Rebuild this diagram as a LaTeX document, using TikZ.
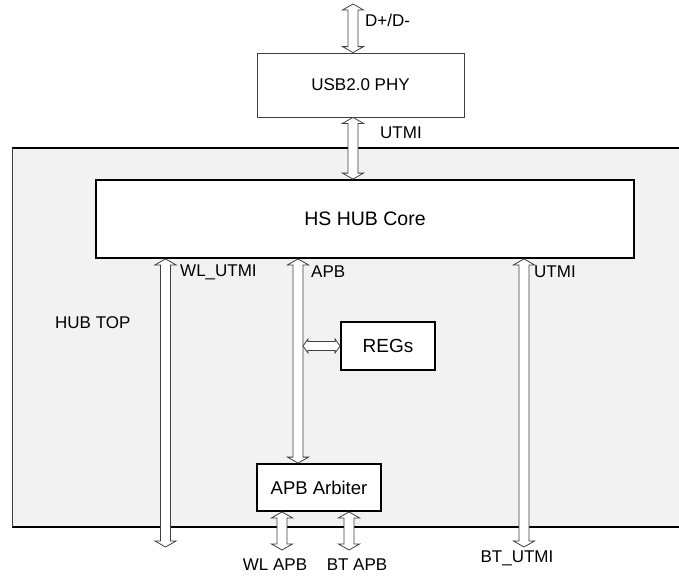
\documentclass[tikz,border=0pt]{standalone}
\usepackage{fontspec}
\setmainfont{Liberation Sans}
\usetikzlibrary{calc}
\definecolor{hubfill}{HTML}{F2F2F2}
\definecolor{arrowgray}{HTML}{404040}
\tikzset{
  busdims/.code n args={3}{\def\busW{#1}\def\busH{#2}\def\busL{#3}},
  busdims={5pt}{10.5pt}{6pt},
  bus/.style={draw=arrowgray, fill=white, line width=0.8pt, line join=miter,
    to path={
      -- ($(\tikztostart)!\busL!(\tikztotarget)!\busH!90:(\tikztotarget)$)
      -- ($(\tikztostart)!\busL!(\tikztotarget)!\busW!90:(\tikztotarget)$)
      -- ($(\tikztotarget)!\busL!(\tikztostart)!\busW!-90:(\tikztostart)$)
      -- ($(\tikztotarget)!\busL!(\tikztostart)!\busH!-90:(\tikztostart)$)
      -- (\tikztotarget)
      -- ($(\tikztotarget)!\busL!(\tikztostart)!\busH!90:(\tikztostart)$)
      -- ($(\tikztotarget)!\busL!(\tikztostart)!\busW!90:(\tikztostart)$)
      -- ($(\tikztostart)!\busL!(\tikztotarget)!\busW!-90:(\tikztotarget)$)
      -- ($(\tikztostart)!\busL!(\tikztotarget)!\busH!-90:(\tikztotarget)$)
      -- cycle}},
  thinbox/.style={draw=arrowgray, line width=0.8pt, fill=white, inner sep=0pt},
  thickbox/.style={draw=black, line width=1.8pt, fill=white, inner sep=0pt},
  lbl/.style={inner sep=0pt, text=black},
}
\begin{document}
\begin{tikzpicture}[x=1pt,y=-1pt,font=\fontsize{17}{20}\selectfont]
\useasboundingbox (0,0) rectangle (679,576);
\clip (0,0) rectangle (679,576);
% HUB TOP region
\fill[hubfill] (12,148) rectangle (700,527);
\draw[black, line width=1.1pt] (700,148) -- (12,148);
\draw[black, line width=1.1pt] (12,527) -- (700,527);
\draw[arrowgray, line width=1pt] (12,148) -- (12,527);
\node[lbl, anchor=west] (hublbl) at (55,323) {HUB TOP};
% blocks
\node[thinbox, minimum width=207pt, minimum height=64pt] (phy) at (360.5,85) {USB2.0 PHY};
\node[thickbox, minimum width=538pt, minimum height=78pt, font=\fontsize{19.5}{23}\selectfont] (core) at (365,219) {HS HUB Core};
\node[thickbox, minimum width=94pt, minimum height=48pt, font=\fontsize{19}{22}\selectfont] (regs) at (388,346) {REGs};
\node[thickbox, minimum width=124pt, minimum height=47pt, font=\fontsize{18.5}{22}\selectfont] (arb) at (319,487.5) {APB Arbiter};
% connector end points
\coordinate (dtop) at (353,4);
\coordinate (dbot) at (dtop |- phy.north);
\coordinate (utop) at (dtop |- phy.south);
\coordinate (ubot) at (dtop |- core.north);
\coordinate (wlend) at (165.5,547);
\coordinate (wlstart) at (wlend |- core.south);
\coordinate (apbx) at (298,0);
\coordinate (apbtop) at (apbx |- core.south);
\coordinate (apbbot) at (apbx |- arb.north);
\coordinate (btend) at (524,547);
\coordinate (btstart) at (btend |- core.south);
\coordinate (regsx) at (303,0);
\coordinate (regsl) at (regsx |- regs.west);
\coordinate (wlaend) at (282,550);
\coordinate (wlastart) at (wlaend |- arb.south);
\coordinate (btaend) at (349,550);
\coordinate (btastart) at (btaend |- arb.south);
% connectors
\draw[bus] (dtop) to (dbot);
\draw[bus] (utop) to (ubot);
\draw[bus] (wlstart) to (wlend);
\draw[bus] (apbtop) to (apbbot);
\draw[bus] (btstart) to (btend);
\draw[bus, busdims={4.5pt}{7pt}{5pt}] (regsl) to (regs.west);
\draw[bus] (wlastart) to (wlaend);
\draw[bus] (btastart) to (btaend);
% labels
\node[lbl, anchor=west] (lbld) at (365,20) {D+/D-};
\node[lbl, anchor=west] (lblu) at (380,133) {UTMI};
\node[lbl, anchor=west] (lblwl) at (180,272) {WL\_UTMI};
\node[lbl, anchor=west] (lblapb) at (311,272) {APB};
\node[lbl, anchor=west] (lblbu) at (534,272) {UTMI};
\node[lbl] (lblwla) at (275,565) {WL APB};
\node[lbl] (lblbta) at (357,565) {BT APB};
\node[lbl] (lblbtu) at (517,558) {BT\_UTMI};
\end{tikzpicture}
\end{document}
